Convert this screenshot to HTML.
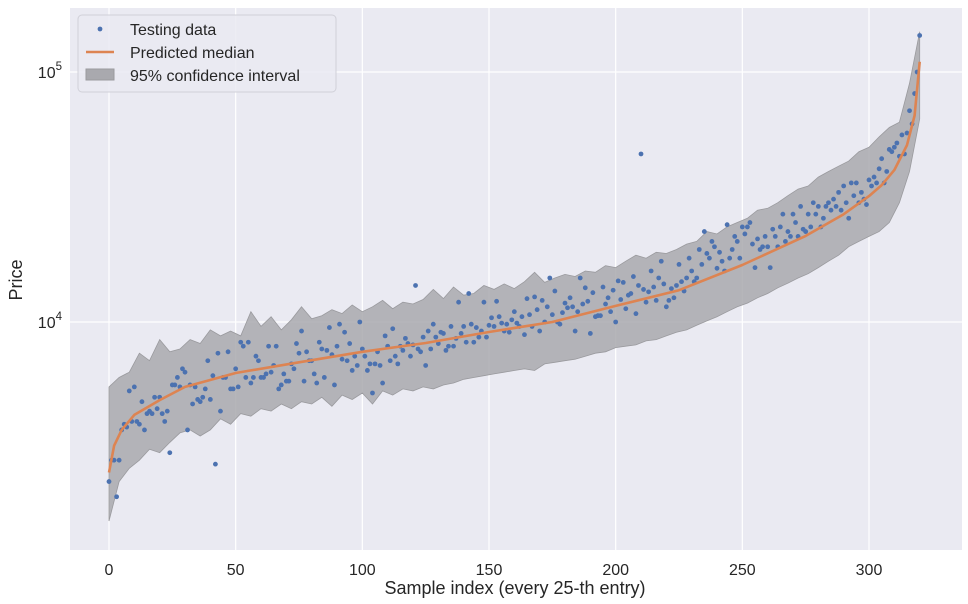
<!DOCTYPE html>
<html><head><meta charset="utf-8"><style>
body{margin:0;background:#fff;}
svg{display:block;font-family:"Liberation Sans","DejaVu Sans",sans-serif;}
</style></head><body>
<svg id="chart" width="968" height="604" viewBox="0 0 968 604"></svg>
<script>
const ticksX=[0,50,100,150,200,250,300];
const ticksYExp=[4,5];
const medianIdx=[0,2,5,10,20,30,50,75,100,125,150,175,200,225,250,275,290,300,305,310,315,318,320];
const medianVal=[2500,3200,3700,4250,4870,5500,6250,6900,7600,8240,9120,10000,11600,13400,16900,22100,27000,31900,35300,40500,51000,67000,110000];
const bandIdx=[0,4,8,12,16,20,24,28,32,36,40,44,48,52,56,60,64,68,72,76,80,84,88,92,96,100,104,108,112,116,120,124,128,132,136,140,144,148,152,156,160,164,168,172,176,180,184,188,192,196,200,204,208,212,216,220,224,228,232,236,240,244,248,252,256,260,264,268,272,276,280,284,288,292,296,300,304,308,312,316,320];
const bandHi=[5500,6000,6300,7500,7000,8500,7600,7800,8500,8200,9300,8800,9200,8800,11000,9600,10500,9300,10200,11500,10300,10600,11200,10800,11700,11000,11500,12200,11300,12000,11800,12300,13500,12400,13800,12800,13000,14000,13500,14200,13600,14500,15800,14400,15000,15500,15200,16000,15800,16800,16500,17500,18500,18000,19000,18800,19500,20500,21000,23000,22500,24000,25000,26000,28000,28500,30000,32000,34000,35000,38000,40000,42000,44000,48000,50000,55000,60000,63000,90000,145000];
const bandLo=[1600,2300,2600,2800,3100,3000,3300,3600,3700,3500,3700,4100,3900,4300,4200,4500,4400,4700,4500,4800,4700,5000,4600,5100,4900,5200,4700,5300,5100,5400,5300,5500,5400,5600,5700,5900,6000,6100,6200,6300,6400,6500,6400,6800,6900,7000,7100,7300,7500,7600,7900,8000,8100,8400,8500,8800,9100,9300,9700,10100,10500,11000,11500,11900,12500,13000,13700,14300,15000,15600,16500,17500,18500,20000,21000,22000,23000,25000,30000,40000,65000];
const testPrices=[2300,2800,2800,2000,2800,3700,3900,3800,5300,4000,5500,4000,3900,4800,3700,4300,4400,4300,5000,4500,5000,
4300,4000,4400,3000,5600,5600,6000,5500,6500,6300,3700,5600,4700,5500,4900,4800,5000,5400,7000,4900,
6100,2700,7500,4400,6000,6000,7600,5400,5400,6500,5500,8300,8000,6000,8300,5700,6000,7300,7000,6000,
6000,6200,8000,6300,6700,8000,5400,5600,6200,5800,5800,6800,6500,8200,7500,9200,5800,7600,7000,7000,
6200,5700,8300,7800,6000,7700,9500,7400,5600,8000,9800,7100,9100,7000,8200,6400,7300,6700,10000,7800,
7300,6400,6800,5200,6800,7600,6700,5700,8800,8000,7000,9400,7300,6800,8000,7700,8600,8200,7300,8100,
14000,7800,7600,8700,6700,9200,7800,9800,8700,8200,9100,9000,7700,8000,9600,8000,8600,12000,9000,9600,
8300,13000,9800,8300,9500,8700,9200,12000,8700,9700,10400,9600,12100,10500,9900,9200,9800,9100,10200,11000,
9900,9600,10500,8900,12400,10700,9600,12600,11200,9200,12200,10000,11500,15000,10700,13300,10000,9800,10900,11900,
11400,12500,11500,9200,11000,15000,11800,13700,12100,9000,13100,10500,10600,10600,13800,11800,12500,11000,13400,10000,
14600,12300,14400,11300,12800,13000,15200,10800,14000,47000,13500,12000,13200,16000,13800,12200,15000,17500,14200,11500,
12200,13600,12500,14000,17000,14500,13300,15000,18000,16000,14500,15000,19500,17000,23000,18800,18000,21000,20000,16400,
19000,17500,16000,24500,18000,19500,22000,21000,18000,24000,22500,24000,25000,20500,16500,21500,19500,20000,22000,20000,
16500,23500,22000,20000,24000,27000,21000,23000,22000,27000,25000,22000,29000,23500,23000,27000,24000,30000,27000,29000,
24000,26000,29000,30000,28000,31000,29000,33000,28000,35000,30000,26000,36000,32000,36000,30000,33000,31000,29500,37000,
35000,38000,36000,41000,45000,36000,40000,49000,48000,50000,52000,46000,56000,47000,57000,70000,62000,82000,100000,140000];

const NS="http://www.w3.org/2000/svg";
const svg=document.getElementById('chart');
const L=70,R=962,T=8,B=550;
function sx(i){return 109+i*(869-109)/300;}
function sy(v){return 322-(Math.log10(v)-4)*250;}
function mk(tag,attrs,parent){const e=document.createElementNS(NS,tag);for(const k in attrs)e.setAttribute(k,attrs[k]);(parent||svg).appendChild(e);return e;}

const bg=mk('rect',{x:L,y:T,width:R-L,height:B-T,fill:'#eaeaf2'});



const grid=mk('g',{});


ticksX.forEach(t=>{
  mk('line',{x1:sx(t),x2:sx(t),y1:T,y2:B,stroke:'#fff','stroke-width':1.2},grid);
  const lb=mk('text',{x:sx(t),y:575,'text-anchor':'middle','font-size':16,fill:'#262626'});
  lb.textContent=t;
  
  
});
ticksYExp.forEach(e=>{
  const y=sy(Math.pow(10,e));
  mk('line',{x1:L,x2:R,y1:y,y2:y,stroke:'#fff','stroke-width':1.2},grid);
  const lb=mk('text',{x:62,y:y+6,'text-anchor':'end','font-size':16,fill:'#262626'});
  lb.innerHTML='10<tspan dy="-8" font-size="11.5">'+e+'</tspan>';
  
  
});

let d='';
bandIdx.forEach((i,k)=>{d+=(k?'L':'M')+sx(i).toFixed(1)+' '+sy(bandHi[k]).toFixed(1);});
for(let k=bandIdx.length-1;k>=0;k--){d+='L'+sx(bandIdx[k]).toFixed(1)+' '+sy(bandLo[k]).toFixed(1);}
const band=mk('path',{d:d+'Z',fill:'#a9a9ae','fill-opacity':0.85,stroke:'#9a9a9e','stroke-width':0.8});



const pts=mk('g',{fill:'#4c72b0'});


testPrices.forEach((v,i)=>{
  const c=mk('circle',{cx:sx(i),cy:sy(v),r:2.4},pts);
  
  
});

const line=mk('polyline',{points:medianIdx.map((i,k)=>sx(i).toFixed(1)+','+sy(medianVal[k]).toFixed(1)).join(' '),fill:'none',stroke:'#dd8452','stroke-width':2.6,'stroke-linejoin':'round'});



const xt=mk('text',{x:515,y:594,'text-anchor':'middle','font-size':18,fill:'#262626'});
xt.textContent='Sample index (every 25-th entry)';


const yt=mk('text',{x:0,y:0,'text-anchor':'middle','font-size':18,fill:'#262626',transform:'translate(22,280) rotate(-90)'});
yt.textContent='Price';



const lg=mk('g',{});


mk('rect',{x:78,y:15,width:258,height:77,rx:4,fill:'#eaeaf2','fill-opacity':0.85,stroke:'#d0d0d8'},lg);
mk('circle',{cx:100,cy:29,r:2.4,fill:'#4c72b0'},lg);
mk('line',{x1:86,x2:114,y1:52,y2:52,stroke:'#dd8452','stroke-width':2.6},lg);
mk('rect',{x:86,y:69,width:28,height:11,fill:'#a9a9ae',stroke:'#9a9a9e'},lg);
[['Testing data',35,'legend-entry-testing'],['Predicted median',58,'legend-entry-median'],['95% confidence interval',81,'legend-entry-interval']].forEach(a=>{
  const t=mk('text',{x:130,y:a[1],'font-size':16,fill:'#262626'},lg);
  t.textContent=a[0];
  
  
});
</script>
</body></html>
